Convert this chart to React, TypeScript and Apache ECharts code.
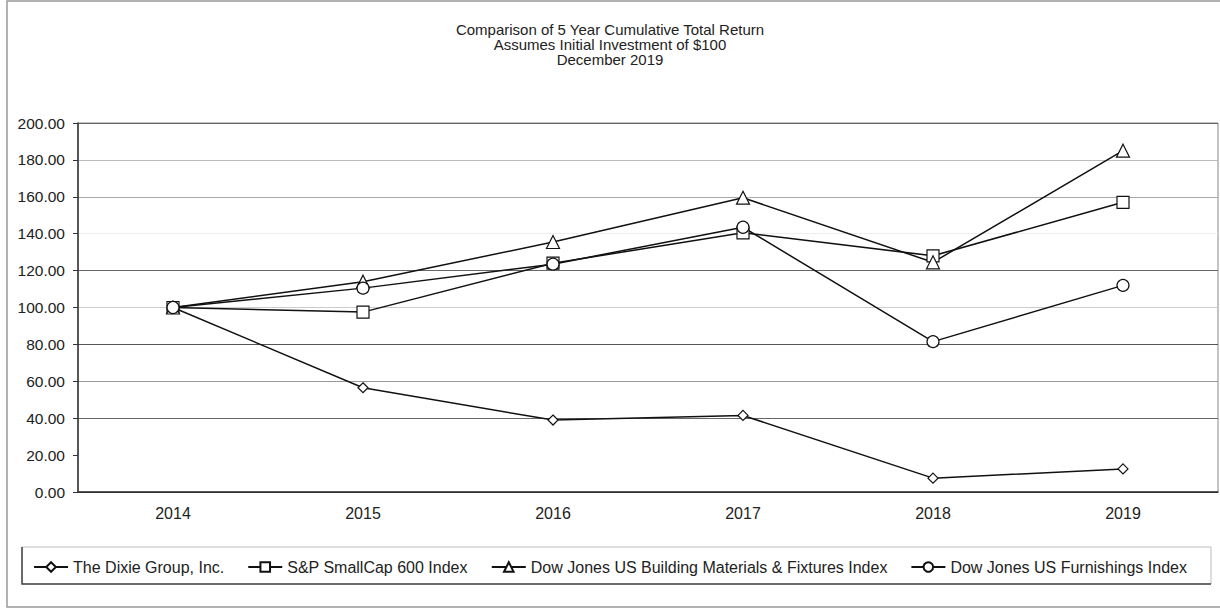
import React, { useEffect, useRef } from "react";
import * as echarts from "echarts";

const years = ["2014", "2015", "2016", "2017", "2018", "2019"];
const dixie = [100, 56.5, 39, 41.5, 7.5, 12.5];
const smallCap = [100, 97.5, 124, 140.5, 128, 157];
const buildingMaterials = [100, 114, 135.5, 159.5, 124.5, 185];
const furnishings = [100, 110.5, 123.5, 143.5, 81.5, 112];
const seriesNames = [
  "The Dixie Group, Inc.",
  "S&P SmallCap 600 Index",
  "Dow Jones US Building Materials & Fixtures Index",
  "Dow Jones US Furnishings Index",
];
const titleLines = [
  "Comparison of 5 Year Cumulative Total Return",
  "Assumes Initial Investment of $100",
  "December 2019",
];
const gridColors = ["#333", "rgba(0,0,0,0)", "#666", "#999", "#555", "#ccc", "#666", "#eee", "#aaa", "#bbb", "#666"];

const FONT = "'Liberation Sans', Arial, sans-serif";

export default function App() {
  const ref = useRef<HTMLDivElement>(null);
  useEffect(() => {
    document.body.style.margin = "0";
    const chart = echarts.init(ref.current!, null, { renderer: "svg" });
    const mk = (name: string, data: number[], symbol: string, size: number) => ({
      name,
      type: "line",
      data,
      symbol,
      symbolSize: size,
      lineStyle: { color: "#111", width: 1.5 },
      itemStyle: { color: "#fff", borderColor: "#111", borderWidth: 1.2 },
      z: 3,
    });
    chart.setOption({
      animation: false,
      backgroundColor: "#fff",
      textStyle: { fontFamily: FONT },
      title: {
        text: titleLines.join("\n"),
        left: "center",
        top: 17,
        textStyle: { fontSize: 15, lineHeight: 15, fontWeight: "normal", color: "#222", fontFamily: FONT },
      },
      graphic: [
        { type: "rect", shape: { x: 7, y: 1, width: 1225, height: 606 }, style: { fill: "none", stroke: "#999", lineWidth: 1.5 }, silent: true },
        { type: "rect", shape: { x: 22, y: 547, width: 1189, height: 37 }, style: { fill: "none", stroke: "#bbb", lineWidth: 1 }, silent: true },
        { type: "polyline", shape: { points: [[22, 547], [22, 584], [1211, 584]] }, style: { fill: "none", stroke: "#444", lineWidth: 1.5 }, silent: true },
      ],
      legend: {
        left: "center",
        top: 554,
        itemWidth: 34,
        itemHeight: 12,
        itemGap: 23,
        textStyle: { fontSize: 16, color: "#222", fontFamily: FONT },
        data: seriesNames,
      },
      grid: { left: 78, right: 2, top: 123, bottom: 119, show: true, borderColor: "#888", borderWidth: 1 },
      xAxis: {
        type: "category",
        data: years,
        axisLine: { lineStyle: { color: "#333", width: 1.5 } },
        axisTick: { alignWithLabel: true, inside: true, length: 4, lineStyle: { color: "#333" } },
        axisLabel: { fontSize: 16, color: "#222", margin: 13, fontFamily: FONT },
      },
      yAxis: {
        type: "value",
        min: 0,
        max: 200,
        interval: 20,
        axisLine: { show: true, lineStyle: { color: "#333", width: 1.5 } },
        axisTick: { show: true, length: 5, lineStyle: { color: "#333" } },
        axisLabel: { fontSize: 15.5, color: "#222", margin: 13, fontFamily: FONT, formatter: (v: number) => v.toFixed(2) },
        splitLine: { show: true, lineStyle: { color: gridColors, width: 1.2 } },
      },
      series: [
        mk(seriesNames[0], dixie, "diamond", 10),
        mk(seriesNames[1], smallCap, "rect", 12),
        mk(seriesNames[2], buildingMaterials, "triangle", 13),
        mk(seriesNames[3], furnishings, "circle", 12),
      ],
    });
    return () => chart.dispose();
  }, []);
  return <div ref={ref} style={{ width: 1220, height: 611 }} />;
}
